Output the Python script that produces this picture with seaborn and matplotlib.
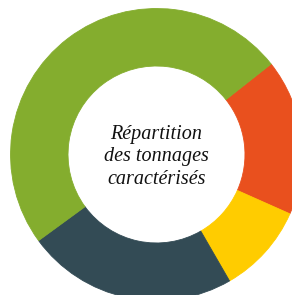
import matplotlib
matplotlib.use("Agg")
import matplotlib.pyplot as plt
import seaborn as sns

# Data
categories = ["Orange", "Jaune", "Bleu foncé", "Vert"]
values = [17.3, 10.0, 23.3, 49.4]
colors = ["#E9501E", "#FFCC00", "#334B55", "#84AD2E"]
title_lines = ["Répartition", "des tonnages", "caractérisés"]

sns.set_theme(style="white")
plt.rcParams['font.family'] = ['Liberation Serif', 'DejaVu Serif']

W, H = 292, 295
fig = plt.figure(figsize=(W / 100, H / 100), dpi=100)
R = 146.0
cx, cy_top = 156.5, 154.5
ax = fig.add_axes([(cx - R) / W, (H - cy_top - R) / H, 2 * R / W, 2 * R / H])

wedges, _ = ax.pie(
    values,
    colors=colors,
    startangle=38.3,
    counterclock=False,
    radius=1.0,
    wedgeprops=dict(width=0.394, linewidth=0.6),
)
for w, c in zip(wedges, colors):
    w.set_edgecolor(c)

ax.set_xlim(-1, 1)
ax.set_ylim(-1, 1)
ax.set_aspect('auto')
ax.axis('off')

ax.text(0, -0.017, "\n".join(title_lines), ha="center", va="center",
        fontsize=14.5, fontstyle="italic", linespacing=1.22, color="#111111")

fig.savefig("out.png", dpi=100)
